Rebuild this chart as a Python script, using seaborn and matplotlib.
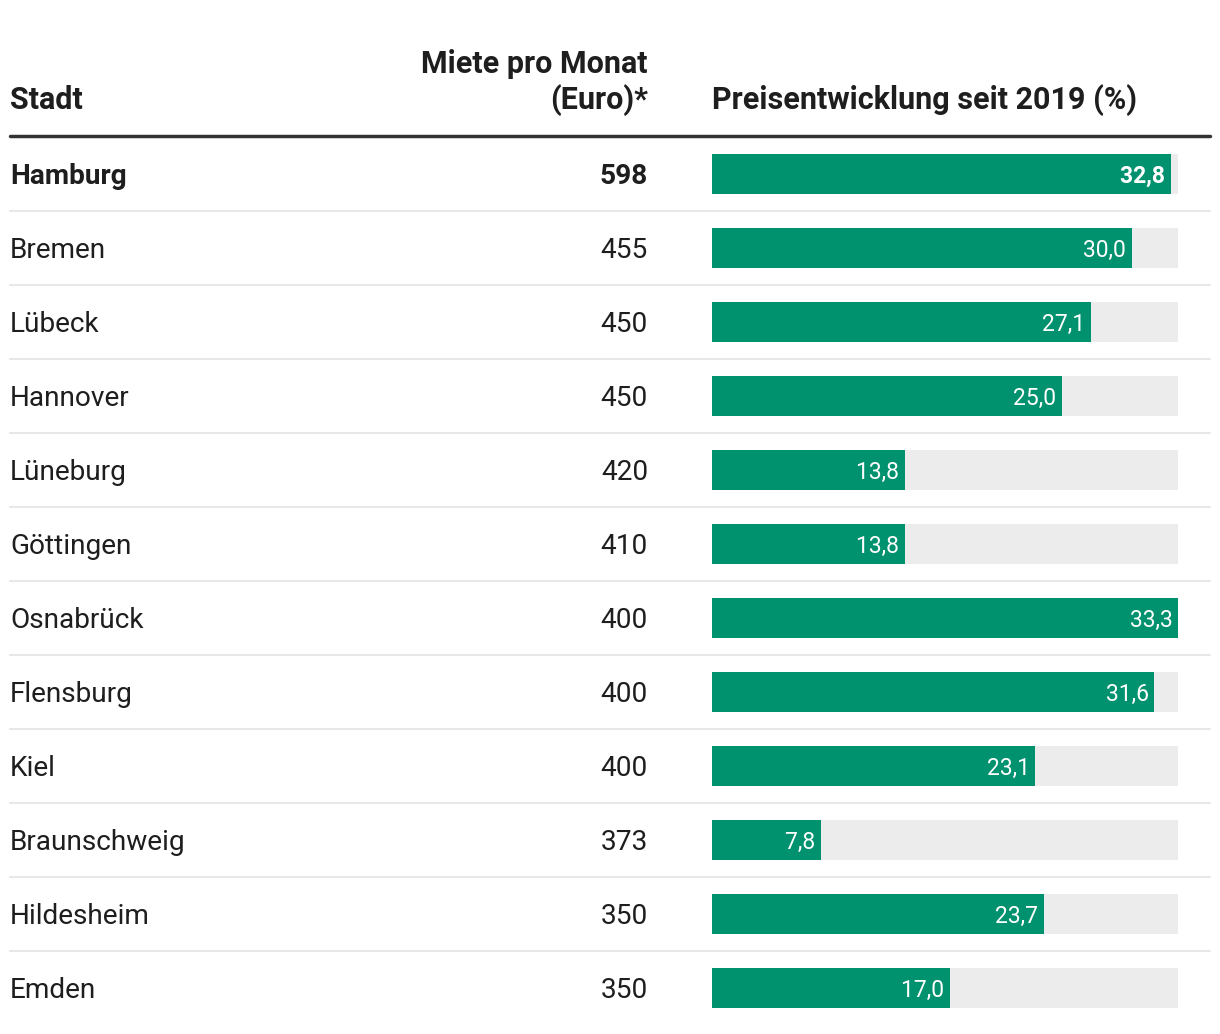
import matplotlib
matplotlib.use("Agg")
import matplotlib.pyplot as plt
import matplotlib.transforms as mtransforms
from matplotlib.lines import Line2D
import seaborn as sns
import pandas as pd

cities = ["Hamburg", "Bremen", "Lübeck", "Hannover", "Lüneburg", "Göttingen",
          "Osnabrück", "Flensburg", "Kiel", "Braunschweig", "Hildesheim", "Emden"]
rent = [598, 455, 450, 450, 420, 410, 400, 400, 400, 373, 350, 350]
change = [32.8, 30.0, 27.1, 25.0, 13.8, 13.8, 33.3, 31.6, 23.1, 7.8, 23.7, 17.0]
bold_rows = ["Hamburg"]

col_city = "Stadt"
col_rent = ["Miete pro Monat", "(Euro)*"]
col_change = "Preisentwicklung seit 2019 (%)"

sns.set_theme(style="white")
plt.rcParams["font.family"] = ["Roboto", "DejaVu Sans"]

W, H = 1220, 1034
fig = plt.figure(figsize=(W / 100, H / 100), dpi=100)

GREEN = "#00916f"
GREY = "#ececec"
TXT = "#1e1e1e"

n = len(cities)
row_h = 74
top_px = 137
x0, x1 = 712, 1178
ax = fig.add_axes([x0 / W, 1 - (top_px + n * row_h) / H, (x1 - x0) / W, n * row_h / H])

df = pd.DataFrame({"Stadt": cities, "Miete": rent, "Change": change})
vmax = max(change)
df["Max"] = vmax

sns.barplot(data=df, y="Stadt", x="Max", orient="h", color=GREY, width=0.54,
            saturation=1, ax=ax, order=cities)
sns.barplot(data=df, y="Stadt", x="Change", orient="h", color=GREEN, width=0.54,
            saturation=1, ax=ax, order=cities)
for p in ax.patches:
    p.set_linewidth(0)

ax.set_xlim(0, vmax)
ax.set_ylim(n - 0.5, -0.5)
ax.axis("off")

fs = 20.2
dy = 0.03
for i, (c, r, v) in enumerate(zip(cities, rent, change)):
    w = "bold" if c in bold_rows else "normal"
    ax.text(v, i + dy, f"{v:.1f}".replace(".", ",") + " ", ha="right", va="center",
            color="white", fontsize=16.5, fontweight=w)

tr = mtransforms.blended_transform_factory(fig.transFigure, ax.transData)
for i, (c, r) in enumerate(zip(cities, rent)):
    w = "bold" if c in bold_rows else "normal"
    ax.text(10 / W, i + dy, c, transform=tr, ha="left", va="center", fontsize=fs,
            color=TXT, fontweight=w)
    ax.text(648 / W, i + dy, str(r), transform=tr, ha="right", va="center", fontsize=fs,
            color=TXT, fontweight=w)
for i in range(n - 1):
    ax.add_line(Line2D([10 / W, 1210 / W], [i + 0.5, i + 0.5], transform=tr,
                       color="#e8e8e8", lw=1.5, clip_on=False))

# header
hfs = 22
fig.add_artist(Line2D([10 / W, 1210 / W], [1 - 136 / H, 1 - 136 / H],
                      transform=fig.transFigure, color="#333333", lw=2.5))
fig.text(10 / W, 1 - 100 / H, col_city, ha="left", va="center", fontsize=hfs,
         fontweight="bold", color=TXT)
fig.text(648 / W, 1 - 64 / H, col_rent[0], ha="right", va="center", fontsize=hfs,
         fontweight="bold", color=TXT)
fig.text(648 / W, 1 - 100 / H, col_rent[1], ha="right", va="center", fontsize=hfs,
         fontweight="bold", color=TXT)
fig.text(712 / W, 1 - 100 / H, col_change, ha="left", va="center", fontsize=hfs,
         fontweight="bold", color=TXT)

fig.savefig("out.png", dpi=100, facecolor="white")
